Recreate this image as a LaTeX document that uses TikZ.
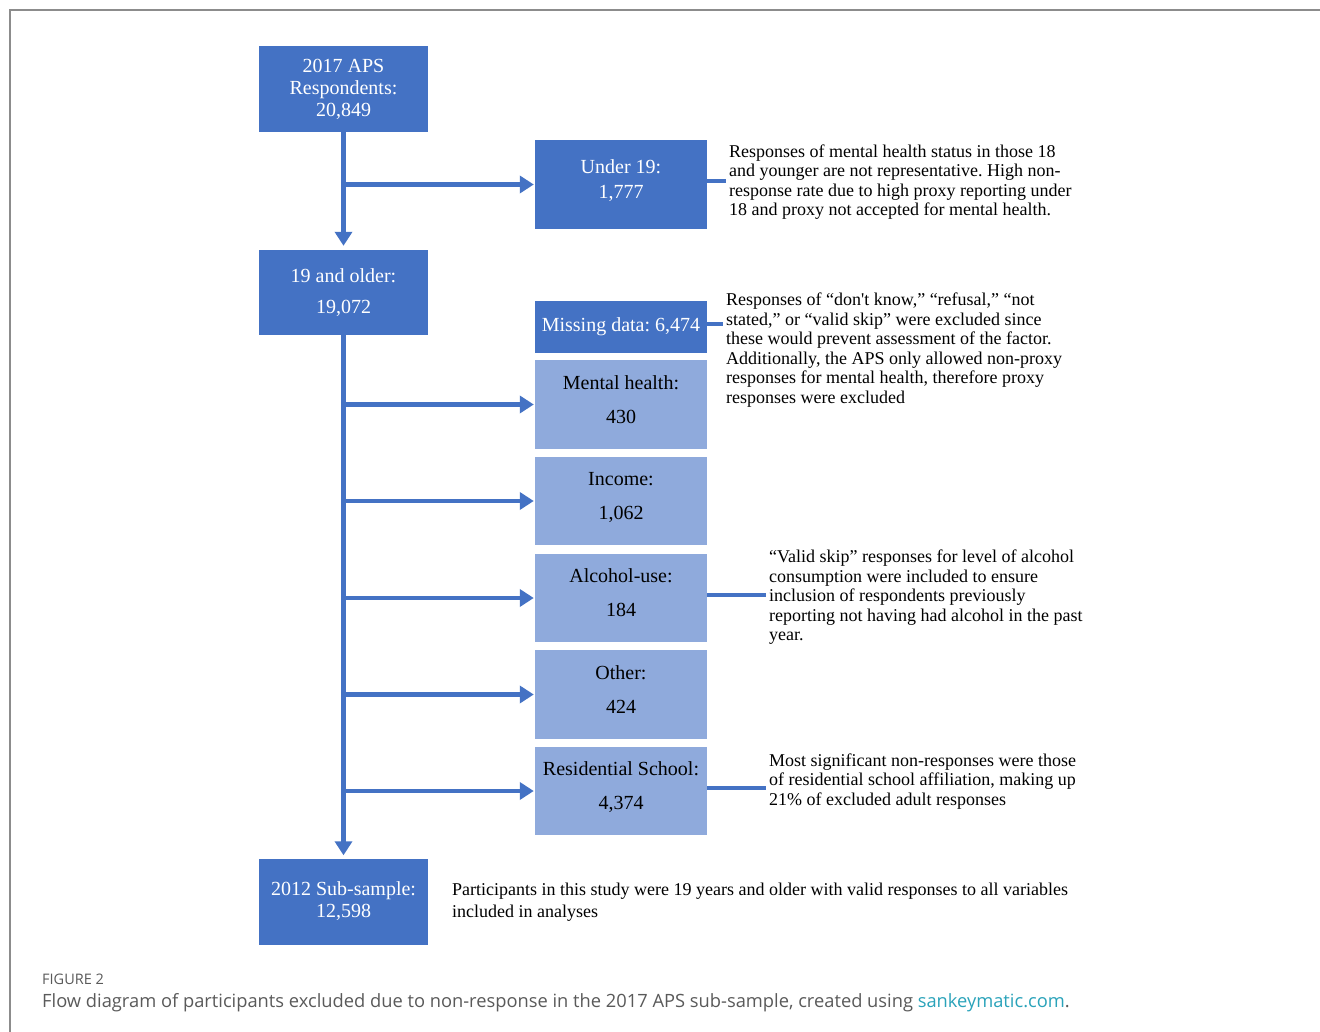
\documentclass[tikz,border=0pt]{standalone}
\usepackage{fontspec}
\setmainfont{Liberation Serif}
\newfontfamily\capfont{Open Sans}
\usetikzlibrary{arrows.meta,calc}
\definecolor{dblue}{HTML}{4472C4}
\definecolor{lblue}{HTML}{8FAADC}
\definecolor{framegray}{HTML}{8C8C8C}
\definecolor{capgray}{HTML}{5A5A5A}
\definecolor{linkteal}{HTML}{2AA3BA}
\frenchspacing
\begin{document}
\frenchspacing
\begin{tikzpicture}[x=1pt,y=-1pt,
 darkbox/.style={fill=dblue, text=white, inner sep=0pt, align=center, font=\fontsize{20}{22}\selectfont},
 lightbox/.style={fill=lblue, text=black, inner sep=0pt, align=center, text depth=10pt, font=\fontsize{20}{34}\selectfont},
 flow/.style={draw=dblue, line width=4.5pt, -{Triangle[width=17pt,length=14pt]}},
 lnk/.style={draw=dblue, line width=4pt},
 note/.style={inner xsep=3pt, inner ysep=0pt, align=left, anchor=west, font=\fontsize{18}{19.5}\selectfont}
]
\useasboundingbox (0,0) rectangle (1320,1032);
\fill[white] (0,0) rectangle (1320,1032);
\draw[framegray, line width=2pt] (10,1032) -- (10,10) -- (1320,10);

% main column
\node[darkbox, minimum width=169pt, minimum height=86pt] (A) at (343.5,89) {2017 APS\\Respondents:\\20,849};
\node[darkbox, minimum width=169pt, minimum height=85pt, font=\fontsize{20}{31}\selectfont] (B) at (343.5,292.5) {19 and older:\\19,072};
\node[darkbox, minimum width=169pt, minimum height=86pt] (C) at (343.5,901.5) {2012 Sub-sample:\\12,598};

% side boxes
\node[darkbox, minimum width=172pt, minimum height=89pt, text depth=11pt, font=\fontsize{20}{25}\selectfont] (U) at (621,184.5) {Under 19:\\1,777};
\node[darkbox, minimum width=172pt, minimum height=52pt] (Mi) at (621,327) {Missing data: 6,474};
\node[lightbox, minimum width=172pt, minimum height=89pt] (M) at (621,404.5) {Mental health:\\430};
\node[lightbox, minimum width=172pt, minimum height=88pt] (I) at (621,501) {Income:\\1,062};
\node[lightbox, minimum width=172pt, minimum height=88pt] (Al) at (621,598) {Alcohol-use:\\184};
\node[lightbox, minimum width=172pt, minimum height=89pt] (O) at (621,694.5) {Other:\\424};
\node[lightbox, minimum width=172pt, minimum height=88pt] (R) at (621,791) {Residential School:\\4,374};

% notes
\node[note] (nU) at (726,182) {Responses of mental health status in those 18\\and younger are not representative. High non-\\response rate due to high proxy reporting under\\18 and proxy not accepted for mental health.};
\node[note] (nMi) at (723,350) {Responses of ``don\textquotesingle t know,'' ``refusal,'' ``not\\stated,'' or ``valid skip'' were excluded since\\these would prevent assessment of the factor.\\Additionally, the APS only allowed non-proxy\\responses for mental health, therefore proxy\\responses were excluded};
\node[note] (nAl) at (766,597.5) {``Valid skip'' responses for level of alcohol\\consumption were included to ensure\\inclusion of respondents previously\\reporting not having had alcohol in the past\\year.};
\node[note] (nR) at (766,781.5) {Most significant non-responses were those\\of residential school affiliation, making up\\21\% of excluded adult responses};
\node[note, font=\fontsize{18}{22}\selectfont] (nC) at (449,902) {Participants in this study were 19 years and older with valid responses to all variables\\included in analyses};

% flows
\draw[flow, shorten >=4pt] (A) -- (B);
\draw[flow, shorten >=1pt] (A.south |- U.west) -- (U.west);
\draw[flow, shorten >=3pt] (B) -- (C);
\draw[flow, shorten >=1pt] (B.south |- M.west) -- (M.west);
\draw[flow, shorten >=1pt] (B.south |- I.west) -- (I.west);
\draw[flow, shorten >=1pt] (B.south |- Al.west) -- (Al.west);
\draw[flow, shorten >=1pt] (B.south |- O.west) -- (O.west);
\draw[flow, shorten >=1pt] (B.south |- R.west) -- (R.west);

% links to notes
\draw[lnk] ($(U.east)+(0,-3)$) -- (nU.west |- {$(U.east)+(0,-3)$});
\draw[lnk] ($(Mi.east)+(0,-3)$) -- (nMi.west |- {$(Mi.east)+(0,-3)$});
\draw[lnk] ($(Al.east)+(0,-3)$) -- (nAl.west |- {$(Al.east)+(0,-3)$});
\draw[lnk] ($(R.east)+(0,-3)$) -- (nR.west |- {$(R.east)+(0,-3)$});

% caption
\node[anchor=west, inner sep=0pt, font=\capfont\fontsize{14.5}{16}\selectfont, text=capgray] (fig) at (42,979) {FIGURE 2};
\node[anchor=west, inner sep=0pt, font=\capfont\fontsize{18.3}{20}\selectfont, text=capgray] (cap) at (42,1003) {Flow diagram of participants excluded due to non-response in the 2017 APS sub-sample, created using \textcolor{linkteal}{sankeymatic.com}.};
\end{tikzpicture}
\end{document}
